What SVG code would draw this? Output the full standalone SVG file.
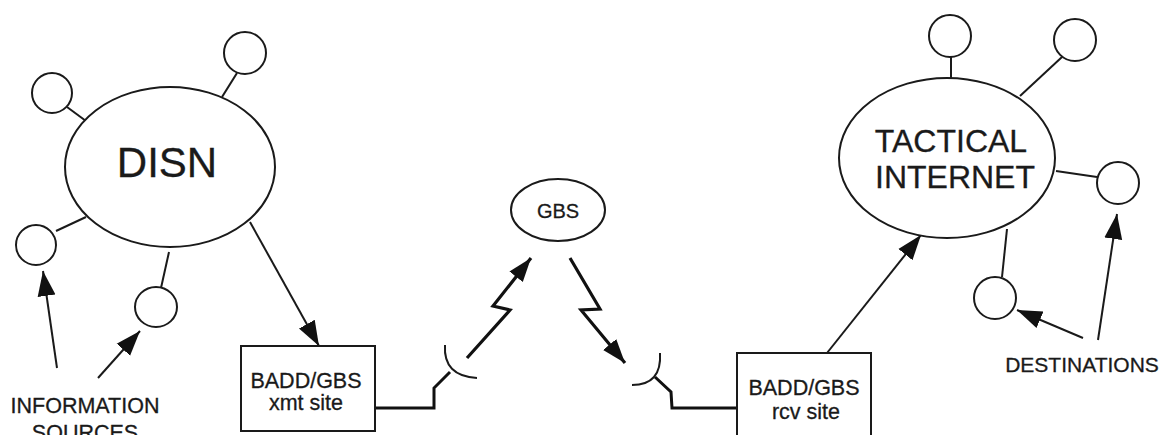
<svg xmlns="http://www.w3.org/2000/svg" width="1165" height="435" viewBox="0 0 1165 435">
<style>
.sh{fill:#fff;stroke:#1a1a1a;stroke-width:2}
.ln{fill:none;stroke:#1a1a1a;stroke-width:2}
.feed{fill:none;stroke:#111;stroke-width:3}
.bolt{fill:none;stroke:#111;stroke-width:3.2;stroke-linejoin:miter}
.t{font-family:"Liberation Sans",Arial,sans-serif;fill:#1a1a1a;text-anchor:middle;stroke:#1a1a1a;stroke-width:0.3}
</style>
<defs>
<marker id="ah" markerWidth="28" markerHeight="22" refX="25" refY="10" orient="auto" markerUnits="userSpaceOnUse">
<path d="M0,1 L25,10 L0,19 Z" fill="#111"/>
</marker>
<marker id="ahb" markerWidth="28" markerHeight="22" refX="24" refY="10" orient="auto" markerUnits="userSpaceOnUse">
<path d="M0,1.5 L24,10 L0,18.5 Z" fill="#111"/>
</marker>
</defs>
<rect width="1165" height="435" fill="#fff"/>

<g id="connectors">
<line class="ln" x1="67" y1="107" x2="86" y2="121"/>
<line class="ln" x1="237" y1="73" x2="222" y2="97"/>
<line class="ln" x1="56" y1="231" x2="86" y2="217"/>
<line class="ln" x1="169" y1="252" x2="161" y2="288"/>
<line class="ln" x1="951" y1="55" x2="951" y2="78"/>
<line class="ln" x1="1062" y1="57" x2="1020" y2="96"/>
<line class="ln" x1="1056" y1="171" x2="1097" y2="177"/>
<line class="ln" x1="1007" y1="229" x2="1002" y2="277"/>
<line class="ln" x1="250" y1="222" x2="319" y2="346" marker-end="url(#ah)"/>
<line class="ln" x1="57" y1="368" x2="43" y2="271" marker-end="url(#ah)"/>
<line class="ln" x1="98" y1="378" x2="140" y2="331" marker-end="url(#ah)"/>
<line class="ln" x1="827" y1="353" x2="921" y2="235" marker-end="url(#ah)"/>
<line class="ln" x1="1098" y1="340" x2="1117" y2="214" marker-end="url(#ah)"/>
<line class="ln" x1="1083" y1="338" x2="1017" y2="310" marker-end="url(#ah)"/>
<path class="bolt" d="M467,358 L510,310 L493,306 L531,258" marker-end="url(#ahb)"/>
<path class="bolt" d="M570,258 L600,309 L581,310 L625,363" marker-end="url(#ahb)"/>
<path class="feed" d="M375,408 L434,408 L434,388 L450,372"/>
<path class="ln" d="M445,345 Q443,376 477,378"/>
<path class="feed" d="M737,408 L672,408 L671,392 L655,377"/>
<path class="ln" d="M660,353 Q662,385 632,385"/>
</g>

<g id="disn">
<ellipse class="sh" cx="170" cy="167" rx="105" ry="80"/>
<text class="t" x="167" y="177" font-size="42">DISN</text>
</g>
<g id="disn-node-1"><circle class="sh" cx="52" cy="93" r="20"/></g>
<g id="disn-node-2"><circle class="sh" cx="245" cy="53" r="21"/></g>
<g id="disn-node-3"><circle class="sh" cx="36" cy="245" r="20"/></g>
<g id="disn-node-4"><ellipse class="sh" cx="156" cy="307" rx="21" ry="20"/></g>

<g id="xmt">
<rect class="sh" x="241" y="346" width="134" height="85"/>
<text class="t" x="306" y="388" font-size="21.5">BADD/GBS</text>
<text class="t" x="306" y="410" font-size="21.5">xmt site</text>
</g>

<g id="gbs">
<ellipse class="sh" cx="558" cy="210" rx="47" ry="31"/>
<text class="t" x="558" y="218" font-size="20">GBS</text>
</g>

<g id="rcv">
<rect class="sh" x="737" y="353" width="134" height="90"/>
<text class="t" x="804" y="395" font-size="21.5">BADD/GBS</text>
<text class="t" x="806" y="419" font-size="21.5">rcv site</text>
</g>

<g id="tactical">
<ellipse class="sh" cx="947" cy="158" rx="108" ry="80"/>
<text class="t" x="951" y="152" font-size="32">TACTICAL</text>
<text class="t" x="955" y="188" font-size="32">INTERNET</text>
</g>
<g id="ti-node-1"><circle class="sh" cx="950" cy="36" r="21"/></g>
<g id="ti-node-2"><circle class="sh" cx="1075" cy="40" r="21"/></g>
<g id="ti-node-3"><circle class="sh" cx="1118" cy="183" r="21"/></g>
<g id="ti-node-4"><circle class="sh" cx="995" cy="298" r="21"/></g>

<g id="labels">
<text class="t" x="85" y="413" font-size="21.5">INFORMATION</text>
<text class="t" x="85" y="440" font-size="21.5">SOURCES</text>
<text class="t" x="1082" y="372" font-size="21">DESTINATIONS</text>
</g>
</svg>
